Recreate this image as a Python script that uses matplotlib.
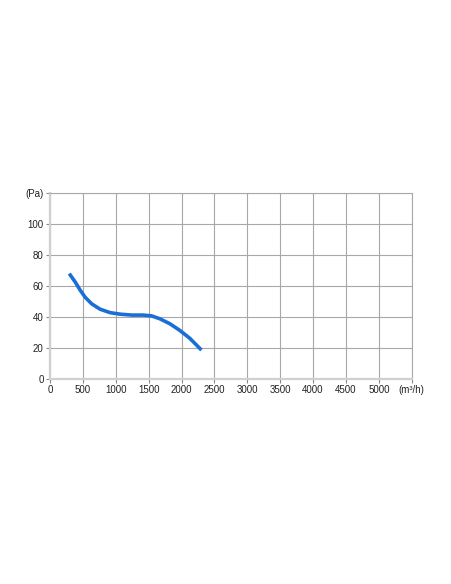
import numpy as np
import matplotlib
matplotlib.use('Agg')
from matplotlib import pyplot as plt

# airflow (m3/h) vs pressure (Pa)
flow = [293, 383, 459, 535, 636, 762, 913, 1065, 1242, 1418, 1545, 1671,
        1823, 1974, 2126, 2303]
pressure = [68.1, 62.7, 57.4, 52.8, 48.5, 45.1, 42.9, 41.9, 41.3, 41.3,
            40.8, 38.9, 35.7, 31.4, 26.3, 18.7]

x_ticks = [0, 500, 1000, 1500, 2000, 2500, 3000, 3500, 4000, 4500, 5000, 5500]
x_labels = ['0', '500', '1000', '1500', '2000', '2500', '3000', '3500',
            '4000', '4500', '5000', '(m\u00b3/h)']
y_ticks = [0, 20, 40, 60, 80, 100, 120]
y_labels = ['0', '20', '40', '60', '80', '100', '(Pa)']

plt.rcParams['font.family'] = ['Liberation Sans', 'DejaVu Sans']

fig = plt.figure(figsize=(4.52, 5.84), dpi=100)
ax = fig.add_axes([50 / 452, (584 - 379) / 584, 361.7 / 452, 185.7 / 584])

ax.plot(flow, pressure, color='#1a6fd6', lw=2.6, solid_capstyle='butt', zorder=3)

ax.set_xlim(0, 5500)
ax.set_ylim(0, 120)
ax.set_xticks(x_ticks)
ax.set_xticklabels(x_labels)
ax.set_yticks(y_ticks)
ax.set_yticklabels(y_labels)

ax.grid(True, color='#a8a8a8', lw=0.8)
for s in ['top', 'right']:
  ax.spines[s].set_color('#a8a8a8')
  ax.spines[s].set_linewidth(0.8)
for s in ['left', 'bottom']:
  ax.spines[s].set_color('#d0d0d0')
  ax.spines[s].set_linewidth(1.6)

ax.tick_params(axis='both', labelsize=7, colors='#222222', length=3,
               width=0.8, pad=1.5)
ax.tick_params(axis='both', color='#888888')

fig.savefig('out.png', dpi=100)
